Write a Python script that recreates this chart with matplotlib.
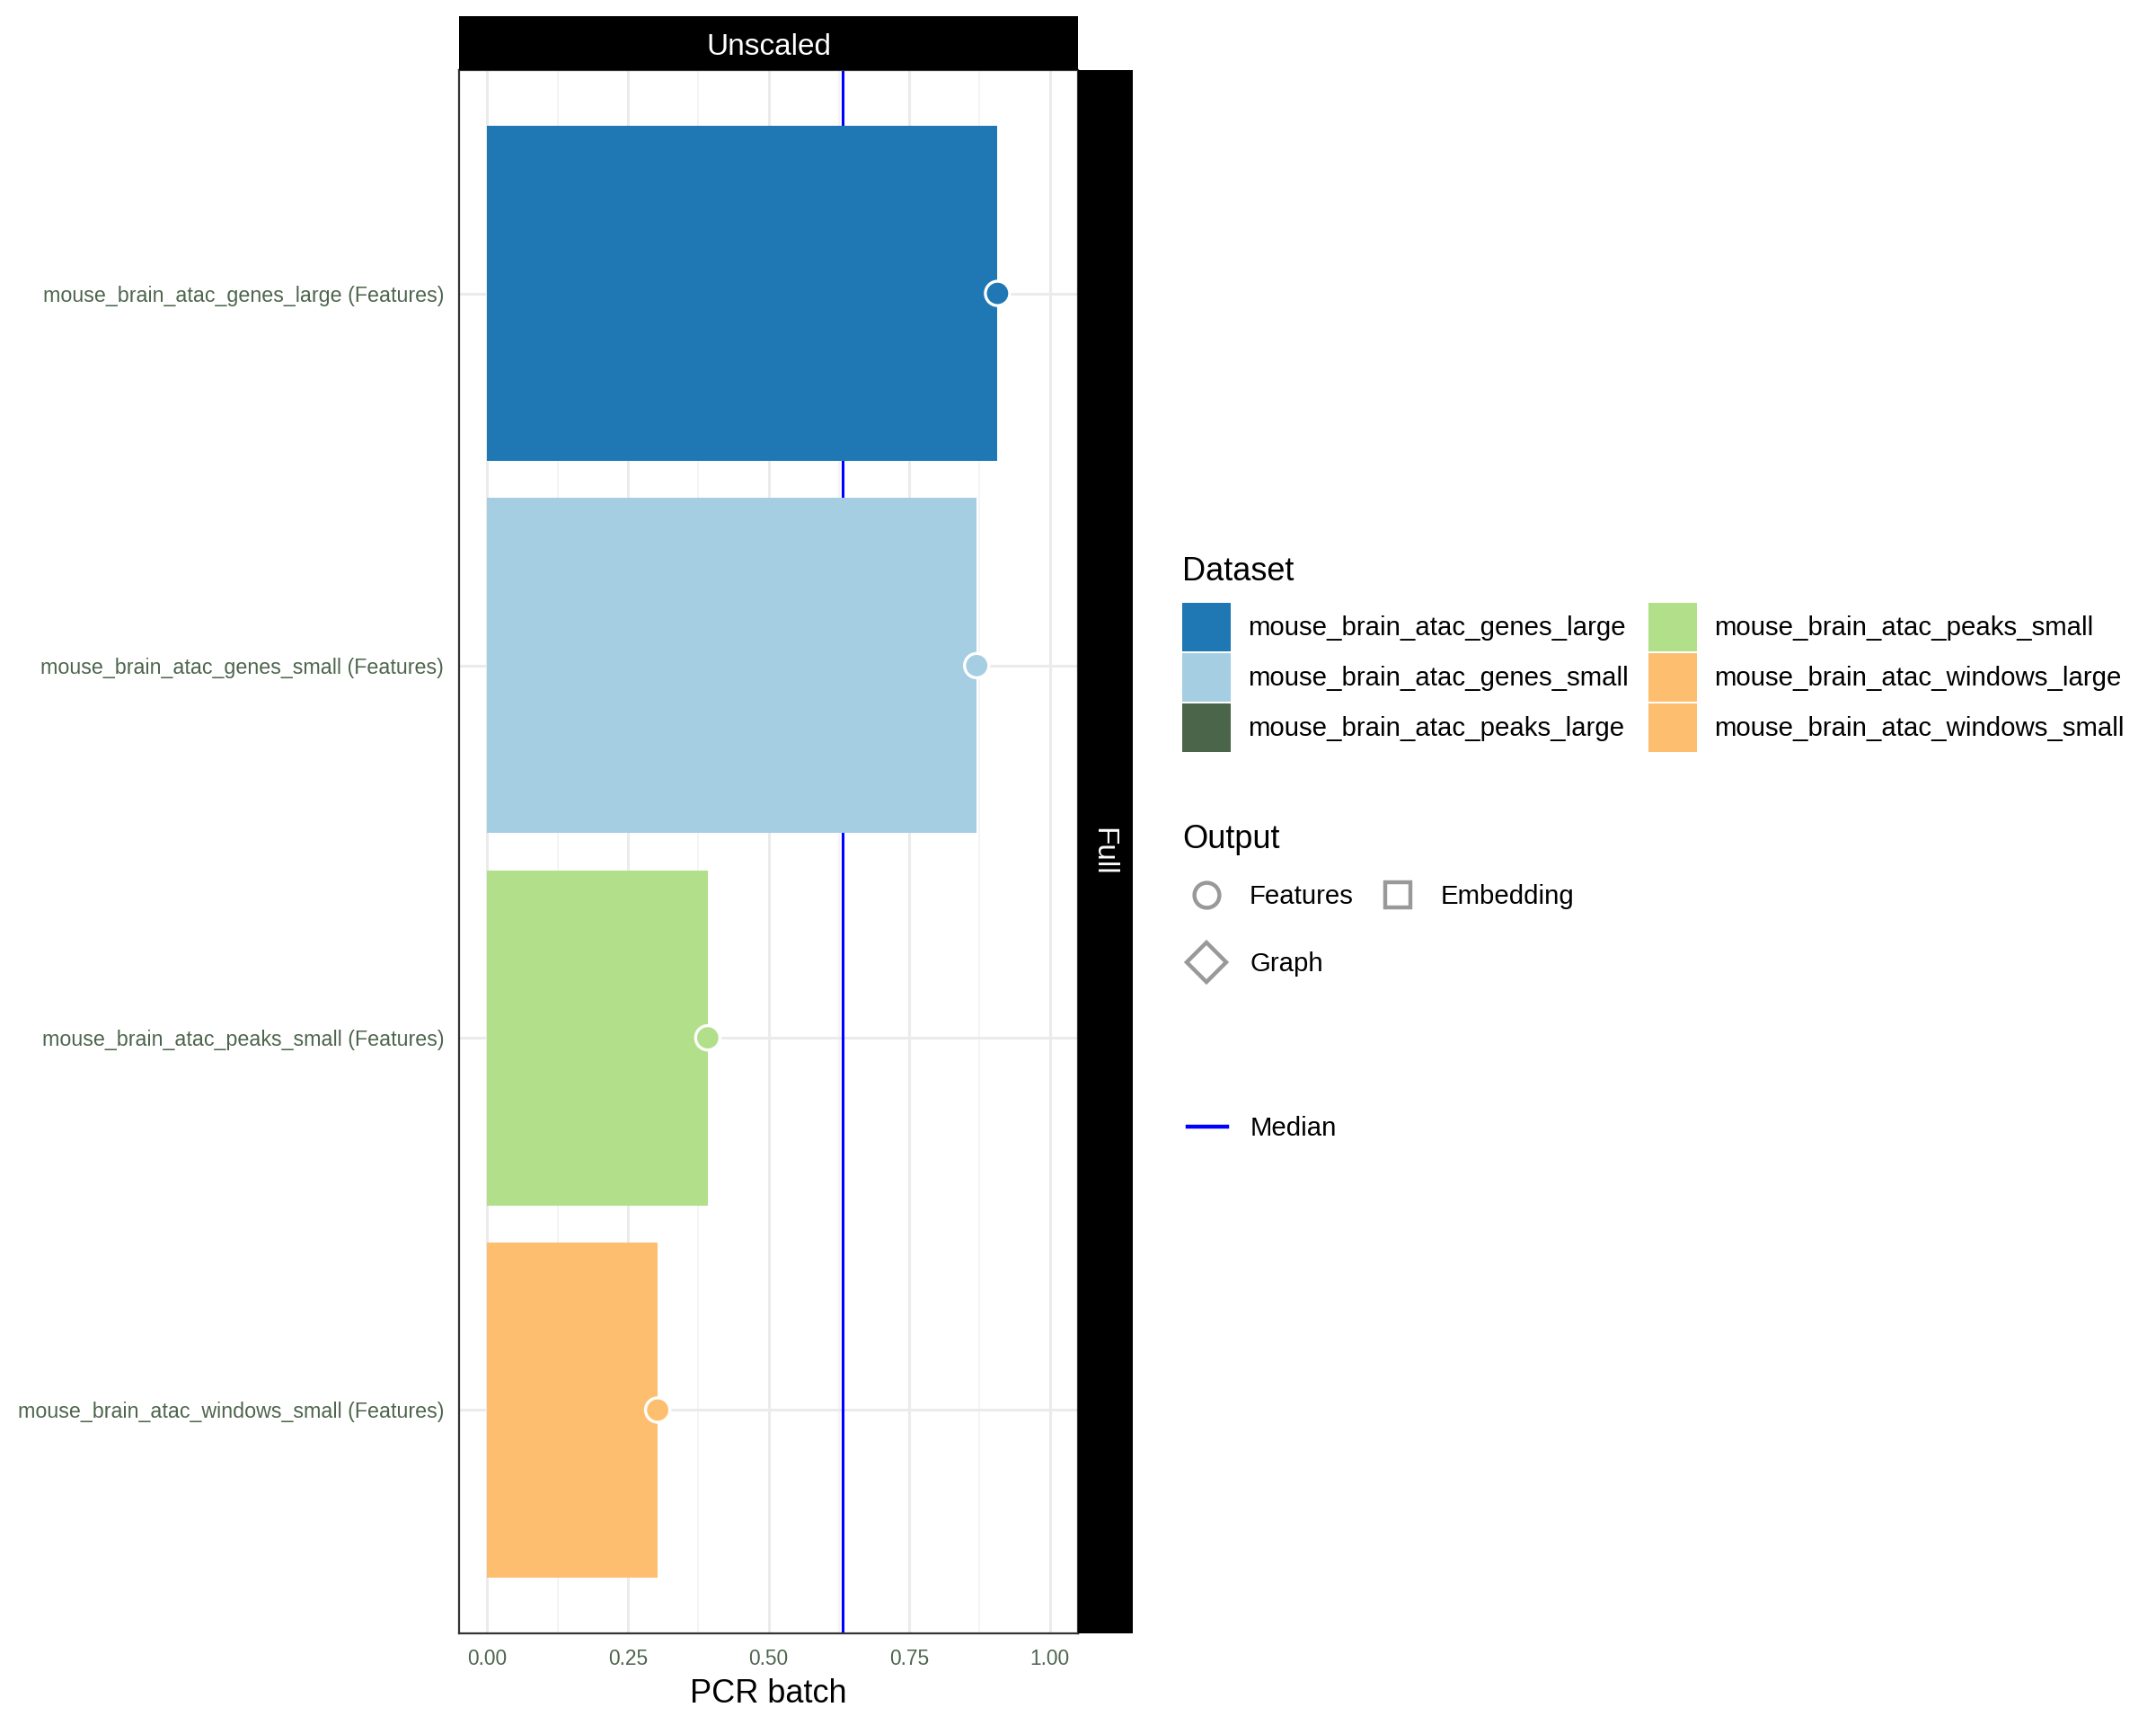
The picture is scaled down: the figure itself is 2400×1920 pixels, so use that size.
import numpy as np
from matplotlib import pyplot as plt
from matplotlib.patches import Patch
from matplotlib.lines import Line2D

plt.rcParams['font.family'] = ['Liberation Sans', 'DejaVu Sans']

# data
datasets = ['mouse_brain_atac_genes_large', 'mouse_brain_atac_genes_small',
            'mouse_brain_atac_peaks_small', 'mouse_brain_atac_windows_small']
outputs = ['Features', 'Features', 'Features', 'Features']
pcr_batch = [0.907, 0.870, 0.392, 0.303]

legend_datasets = ['mouse_brain_atac_genes_large', 'mouse_brain_atac_genes_small',
                   'mouse_brain_atac_peaks_large', 'mouse_brain_atac_peaks_small',
                   'mouse_brain_atac_windows_large', 'mouse_brain_atac_windows_small']
legend_colors = ['#1F78B4', '#A6CEE3', '#4B654B', '#B2DF8A', '#FDBF6F', '#FDBF6F']
dataset_color = dict(zip(legend_datasets, legend_colors))

output_names = ['Features', 'Embedding', 'Graph']
output_markers = ['o', 's', 'D']

x_ticks = [0.0, 0.25, 0.5, 0.75, 1.0]
x_ticklabels = ['0.00', '0.25', '0.50', '0.75', '1.00']

label_col = '#4D654D'
W, H = 2400, 1920
fig = plt.figure(figsize=(12, 9.6), dpi=200)

def rect(x0, y0, x1, y1):
    # pixel box (top-left origin) -> figure fraction
    return [x0 / W, 1 - y1 / H, (x1 - x0) / W, (y1 - y0) / H]

ax = fig.add_axes(rect(511, 78, 1200, 1818))
pos = np.arange(1, len(datasets) + 1)
bar_colors = [dataset_color[d] for d in datasets]

# grid
ax.set_xticks(x_ticks)
ax.set_xticks(np.arange(0.125, 1.0, 0.25), minor=True)
ax.set_yticks(pos)
ax.grid(axis='x', which='major', color='#EBEBEB', lw=1.1, zorder=0)
ax.grid(axis='x', which='minor', color='#F2F2F2', lw=0.6, zorder=0)
ax.grid(axis='y', which='major', color='#EBEBEB', lw=1.1, zorder=0)
ax.set_axisbelow(True)

med = np.median(pcr_batch)
ax.axvline(med, color='#0000FF', lw=1.1, zorder=1)

ax.barh(pos, pcr_batch, height=0.9, color=bar_colors, zorder=2)
ax.scatter(pcr_batch, pos, s=95, c=bar_colors, edgecolors='white', linewidths=1.2, zorder=3)

ax.set_xlim(-0.05, 1.05)
ax.set_ylim(len(datasets) + 0.6, 0.4)
ax.set_xticklabels(x_ticklabels)
ax.set_yticklabels([f'{d} ({o})' for d, o in zip(datasets, outputs)])
ax.tick_params(axis='both', which='both', length=0, labelsize=8.2, labelcolor=label_col)
ax.tick_params(axis='y', pad=6, labelsize=8.4)
ax.tick_params(axis='x', pad=6)
ax.set_xlabel('PCR batch', fontsize=13, labelpad=3.6)
for s in ax.spines.values():
    s.set_color('#333333')
    s.set_linewidth(0.8)

# facet strips
top = fig.add_axes(rect(511, 18, 1200, 78))
top.set_facecolor('black')
top.set_xticks([]); top.set_yticks([])
for s in top.spines.values():
    s.set_visible(False)
top.text(0.5, 0.42, 'Unscaled', color='white', fontsize=12, ha='center', va='center',
         transform=top.transAxes)

side = fig.add_axes(rect(1200, 78, 1261, 1818))
side.set_facecolor('black')
side.set_xticks([]); side.set_yticks([])
for s in side.spines.values():
    s.set_visible(False)
side.text(0.45, 0.5, 'Full', color='white', fontsize=12, ha='center', va='center',
          rotation=-90, transform=side.transAxes)

# legends
h1 = [Patch(facecolor=c, edgecolor='none') for c in legend_colors]
leg1 = fig.legend(h1, legend_datasets, loc='upper left', bbox_to_anchor=(1316 / W, 1 - 619 / H),
                  ncol=2, frameon=False, title='Dataset', title_fontsize=13, fontsize=10.6,
                  alignment='left', handlelength=1.83, handleheight=2.45, labelspacing=0.07,
                  handletextpad=0.65, columnspacing=0.76, borderpad=0, borderaxespad=0)
leg1._legend_box.sep = 6

order = [0, 2, 1]
h2 = [Line2D([], [], ls='none', marker=output_markers[i], markersize=10 if i != 2 else 11,
             markerfacecolor='none', markeredgecolor='#999999', markeredgewidth=1.6)
      for i in order]
leg2 = fig.legend(h2, [output_names[i] for i in order], loc='upper left',
                  bbox_to_anchor=(1316 / W, 1 - 917 / H), ncol=2, frameon=False,
                  title='Output', title_fontsize=13, fontsize=10.6, alignment='left',
                  handlelength=1.8, labelspacing=1.6, handletextpad=0.75, columnspacing=0.75,
                  borderpad=0, borderaxespad=0)
leg2._legend_box.sep = 11.5

h3 = [Line2D([], [], color='#0000FF', lw=1.6)]
leg3 = fig.legend(h3, ['Median'], loc='upper left', bbox_to_anchor=(1322 / W, 1 - 1242 / H),
                  frameon=False, fontsize=10.6, handlelength=1.5, handletextpad=0.85,
                  borderpad=0, borderaxespad=0)

fig.savefig('out.png', dpi=200)
